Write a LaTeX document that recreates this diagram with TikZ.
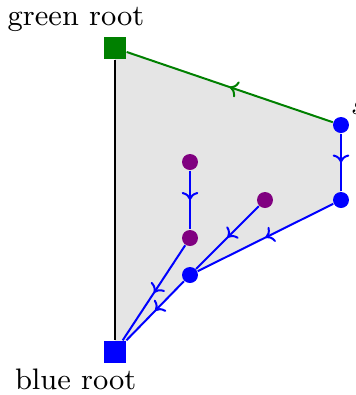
\documentclass[tikz,border=0pt]{standalone}
\usepackage{tikz}
\usetikzlibrary{shapes,arrows.meta,positioning,decorations.markings,backgrounds}
\definecolor{rootgreen}{RGB}{0,128,0}
\definecolor{leafpurple}{RGB}{128,0,128}

\begin{document}
\begin{tikzpicture}[x=0.3pt,y=-0.3pt,
  root/.style={rectangle,minimum size=6.6pt,inner sep=0pt},
  vert/.style={circle,minimum size=4.8pt,inner sep=0pt,fill=blue},
  leaf/.style={circle,minimum size=4.8pt,inner sep=0pt,fill=leafpurple},
  lbl/.style={font=\fontsize{8.9}{11}\selectfont,inner sep=1pt},
  midarrow/.style={postaction={decorate},decoration={markings,
    mark=at position 0.5 with {\arrow{To[length=2.4pt,width=5pt]}}}}]
\useasboundingbox (0,0) rectangle (356,395);
% roots
\node[root,fill=rootgreen,label={[lbl,xshift=-11.7pt,label distance=0.2pt]above:green root}] (greenroot) at (115,48) {};
\node[root,fill=blue,label={[lbl,xshift=-11.8pt,label distance=0.5pt]below:blue root}] (blueroot) at (115,352) {};
% tree vertices
\node[vert,label={[lbl]45:$s$}] (s) at (341,125) {};
\node[vert] (sdown) at (341,200) {};
\node[vert] (joint) at (190,275) {};
\node[leaf] (leaftop) at (190,162) {};
\node[leaf] (leafmid) at (190,238) {};
\node[leaf] (leafright) at (265,200) {};
% shaded face
\begin{scope}[on background layer]
\fill[gray!20] (greenroot.center) -- (s.center) -- (sdown.center) -- (joint.center) -- (blueroot.center) -- cycle;
\end{scope}
% edges
\draw[semithick] (greenroot) -- (blueroot);
\draw[semithick,rootgreen,midarrow] (s) -- (greenroot);
\draw[semithick,blue,midarrow] (s) -- (sdown);
\draw[semithick,blue,midarrow] (sdown) -- (joint);
\draw[semithick,blue,midarrow] (joint) -- (blueroot);
\draw[semithick,blue,midarrow] (leaftop) -- (leafmid);
\draw[semithick,blue,midarrow] (leafmid) -- (blueroot);
\draw[semithick,blue,midarrow] (leafright) -- (joint);
\end{tikzpicture}
\end{document}
